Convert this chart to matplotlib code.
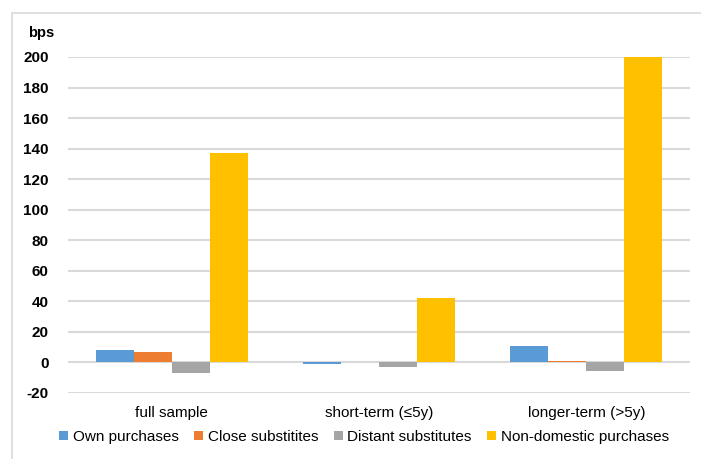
import matplotlib
matplotlib.use("Agg")
import numpy as np
import matplotlib.pyplot as plt
from matplotlib.patches import Rectangle

plt.rcParams["font.family"] = ["Liberation Sans", "DejaVu Sans"]

categories = ["full sample", "short-term (\u22645y)", "longer-term (>5y)"]
series_names = ["Own purchases", "Close substitites", "Distant substitutes",
                "Non-domestic purchases"]
own = [8, -1, 10.5]
close = [7, 0.3, 1]
distant = [-7, -3, -5.5]
non_domestic = [137, 42, 200]
colors = ["#5b9bd5", "#ed7d31", "#a5a5a5", "#ffc000"]
yticks = list(range(-20, 201, 20))

fig = plt.figure(figsize=(7.01, 4.59), dpi=100)
ax = fig.add_axes([68 / 701, 1 - 393 / 459, 622 / 701, 336 / 459])

# light frame round the chart area
fig.patches.append(Rectangle((12 / 701, -0.05), 1.0, 1 - 13 / 459 + 0.05,
                             transform=fig.transFigure, fill=False,
                             edgecolor="#d9d9d9", linewidth=1.2))

x = np.arange(len(categories))
w = 0.1835
for i, (vals, c, name) in enumerate(zip([own, close, distant, non_domestic],
                                        colors, series_names)):
    ax.bar(x + (i - 1.5) * w, vals, width=w, color=c, label=name, zorder=3)

ax.set_xlim(-0.5, 2.5)
ax.set_ylim(-20, 200)
ax.set_yticks(yticks)
ax.set_yticklabels([str(t) for t in yticks], fontsize=11, fontweight="bold")
ax.set_xticks(x)
ax.set_xticklabels(categories, fontsize=11, color="black")
ax.yaxis.grid(True, color="#d9d9d9", linewidth=1.5, zorder=0)
ax.tick_params(length=0)
ax.tick_params(axis="y", pad=14)
ax.tick_params(axis="x", pad=9)
for s in ax.spines.values():
    s.set_visible(False)

fig.text(28 / 701, 1 - 33 / 459, "bps", fontsize=10.5, fontweight="bold",
         va="center")

fig.legend(loc="center", bbox_to_anchor=(364 / 701, 1 - 437 / 459), ncol=4,
           frameon=False, fontsize=11, handlelength=0.6, handleheight=0.6,
           handletextpad=0.3, columnspacing=1.0)

fig.savefig("out.png", dpi=100)
